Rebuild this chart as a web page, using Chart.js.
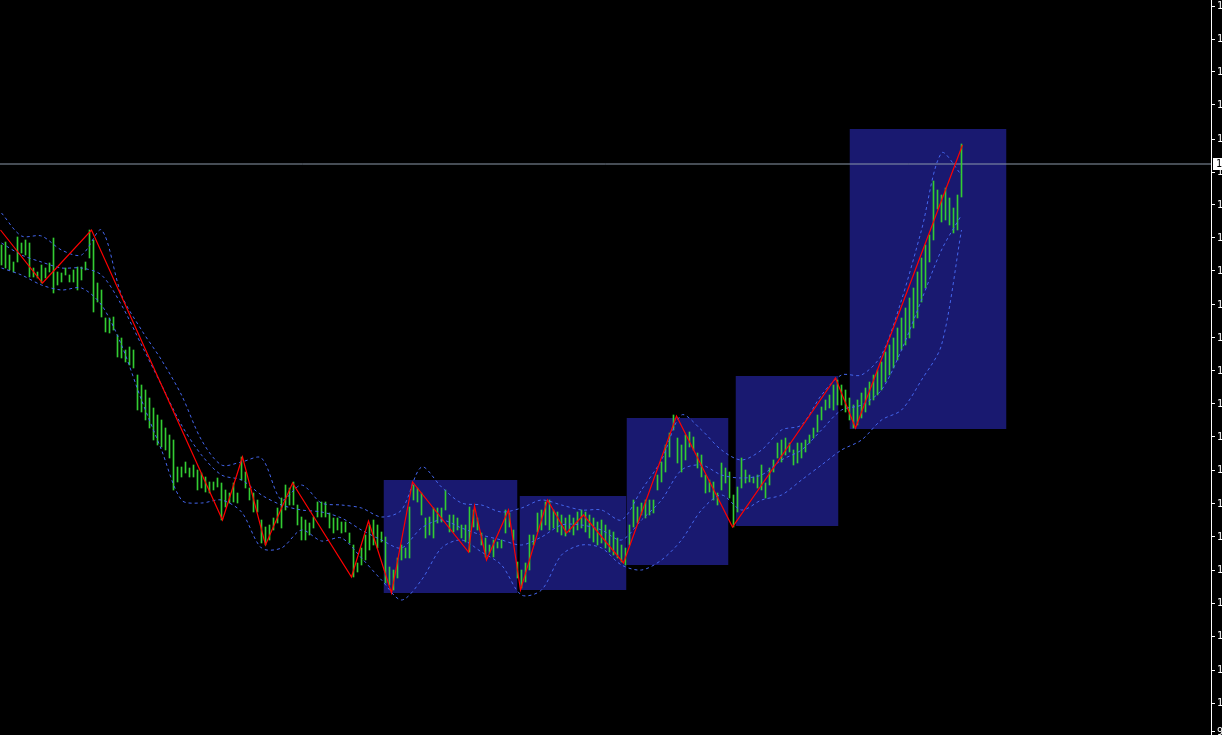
<!DOCTYPE html>
<html>
<head>
<meta charset="utf-8">
<script src="https://cdn.jsdelivr.net/npm/chart.js@4.4.0/dist/chart.umd.min.js"></script>
<style>
  body { margin: 0; background: #000; overflow: hidden; }
  #wrap { width: 1222px; height: 735px; }
</style>
</head>
<body>
<div id="wrap"><canvas id="chart" width="1222" height="735"></canvas></div>
<script>
// bar high / low (one bar every index)
const barHigh = [
  104.85, 104.88, 104.75, 104.68, 104.93, 104.87, 104.90, 104.87, 104.62, 104.58,
  104.65, 104.62, 104.67, 104.92, 104.58, 104.57, 104.62, 104.55, 104.60, 104.63,
  104.63, 104.68, 105.00, 104.90, 104.47, 104.40, 104.12, 104.12, 104.13, 103.95,
  103.92, 103.80, 103.83, 103.80, 103.55, 103.45, 103.40, 103.32, 103.22, 103.15,
  103.10, 103.02, 102.95, 102.90, 102.63, 102.63, 102.68, 102.62, 102.65, 102.60,
  102.57, 102.53, 102.48, 102.48, 102.52, 102.47, 102.40, 102.37, 102.47, 102.37,
  102.73, 102.58, 102.42, 102.37, 102.30, 102.10, 102.03, 102.05, 102.12, 102.22,
  102.32, 102.45, 102.42, 102.48, 102.25, 102.13, 102.10, 102.07, 102.13, 102.28,
  102.28, 102.28, 102.17, 102.12, 102.12, 102.08, 102.08, 101.97, 101.85, 101.67,
  101.82, 101.95, 102.05, 102.10, 102.05, 101.98, 101.93, 101.63, 101.60, 101.72,
  101.85, 101.82, 102.23, 102.45, 102.42, 102.37, 102.12, 102.13, 102.22, 102.22,
  102.22, 102.40, 102.15, 102.15, 102.12, 102.05, 102.05, 102.23, 102.20, 102.12,
  101.97, 101.92, 101.85, 101.90, 101.88, 101.90, 102.20, 102.17, 102.00, 101.68,
  101.60, 101.67, 101.95, 101.95, 102.17, 102.20, 102.28, 102.30, 102.20, 102.18,
  102.15, 102.12, 102.15, 102.12, 102.18, 102.20, 102.18, 102.15, 102.12, 102.08,
  102.10, 102.05, 102.00, 101.98, 101.92, 101.85, 101.82, 102.05, 102.30, 102.23,
  102.27, 102.30, 102.30, 102.30, 102.55, 102.68, 102.85, 102.97, 103.15, 102.92,
  102.85, 102.95, 102.98, 102.93, 102.77, 102.75, 102.55, 102.50, 102.48, 102.37,
  102.67, 102.62, 102.58, 102.35, 102.43, 102.72, 102.60, 102.55, 102.53, 102.55,
  102.65, 102.47, 102.62, 102.70, 102.87, 102.90, 102.92, 102.87, 102.80, 102.87,
  102.87, 102.90, 102.95, 103.02, 103.15, 103.23, 103.30, 103.35, 103.45, 103.50,
  103.45, 103.40, 103.32, 103.25, 103.30, 103.37, 103.42, 103.48, 103.55, 103.60,
  103.68, 103.78, 103.85, 103.92, 104.02, 104.12, 104.22, 104.32, 104.42, 104.58,
  104.72, 104.85, 104.95, 105.49, 105.40, 105.35, 105.42, 105.32, 105.22, 105.35,
  105.86
];
const barLow = [
  104.65, 104.62, 104.60, 104.58, 104.68, 104.77, 104.75, 104.53, 104.53, 104.52,
  104.47, 104.52, 104.58, 104.37, 104.45, 104.48, 104.55, 104.48, 104.48, 104.40,
  104.50, 104.60, 104.72, 104.18, 104.28, 104.13, 103.98, 103.97, 104.00, 103.73,
  103.72, 103.68, 103.65, 103.62, 103.20, 103.18, 103.10, 103.02, 102.90, 102.85,
  102.83, 102.80, 102.72, 102.40, 102.48, 102.53, 102.57, 102.53, 102.53, 102.40,
  102.42, 102.38, 102.37, 102.40, 102.43, 102.10, 102.23, 102.27, 102.28, 102.27,
  102.50, 102.42, 102.30, 102.18, 102.18, 101.87, 101.85, 101.90, 102.00, 102.07,
  102.02, 102.20, 102.25, 102.25, 102.05, 101.90, 101.90, 101.95, 102.02, 102.13,
  102.13, 102.13, 102.02, 101.97, 102.00, 101.97, 101.98, 101.87, 101.53, 101.58,
  101.65, 101.70, 101.80, 101.85, 101.82, 101.88, 101.47, 101.45, 101.40, 101.52,
  101.70, 101.72, 101.72, 102.30, 102.28, 102.15, 101.92, 101.95, 101.92, 102.07,
  102.08, 102.20, 101.98, 101.98, 102.00, 101.92, 101.88, 101.78, 102.03, 102.00,
  101.85, 101.73, 101.77, 101.73, 101.82, 101.82, 101.97, 102.03, 101.90, 101.52,
  101.42, 101.48, 101.60, 101.85, 101.98, 102.00, 102.05, 102.00, 102.02, 101.98,
  101.95, 101.94, 101.98, 101.95, 102.00, 102.02, 101.98, 101.92, 101.88, 101.85,
  101.87, 101.82, 101.78, 101.75, 101.72, 101.68, 101.65, 101.85, 102.03, 102.07,
  102.15, 102.12, 102.15, 102.17, 102.40, 102.48, 102.58, 102.73, 103.00, 102.67,
  102.58, 102.70, 102.83, 102.80, 102.62, 102.53, 102.37, 102.38, 102.30, 102.25,
  102.40, 102.47, 102.32, 102.03, 102.18, 102.42, 102.47, 102.48, 102.47, 102.42,
  102.40, 102.32, 102.45, 102.58, 102.72, 102.68, 102.75, 102.78, 102.65, 102.67,
  102.72, 102.78, 102.87, 102.92, 102.98, 103.10, 103.20, 103.22, 103.20, 103.25,
  103.25, 103.18, 103.10, 103.02, 103.05, 103.12, 103.18, 103.25, 103.30, 103.35,
  103.40, 103.48, 103.55, 103.62, 103.70, 103.80, 103.85, 103.92, 104.02, 104.12,
  104.28, 104.42, 104.68, 104.90, 105.21, 105.08, 105.10, 105.05, 104.97, 105.00,
  105.33
];

// bollinger style bands, sampled at these bar indexes
const bandIdx = [0, 5, 10, 15, 20, 25, 30, 35, 40, 45, 50, 55, 60, 65, 70, 75, 80, 85, 90, 95,
  100, 105, 110, 115, 120, 125, 130, 135, 140, 145, 150, 155, 160, 165, 170, 175, 180, 185, 190, 195,
  200, 205, 210, 215, 220, 225, 230, 235, 240];
const bandUpper = [105.17, 104.94, 104.94, 104.80, 104.75, 105.00, 104.35, 104.00, 103.70, 103.35,
  102.90, 102.65, 102.68, 102.72, 102.30, 102.45, 102.27, 102.25, 102.22, 102.13,
  102.20, 102.63, 102.43, 102.27, 102.25, 102.18, 102.22, 102.30, 102.25, 102.20,
  102.20, 102.10, 102.40, 102.70, 103.15, 103.00, 102.80, 102.70, 102.80, 103.00,
  103.05, 103.35, 103.55, 103.55, 103.75, 104.30, 105.00, 105.77, 105.55];
const bandMiddle = [104.87, 104.75, 104.68, 104.62, 104.62, 104.55, 104.25, 103.85, 103.45, 103.05,
  102.75, 102.55, 102.50, 102.35, 102.25, 102.20, 102.18, 102.12, 102.00, 101.90,
  101.82, 102.02, 102.10, 102.02, 101.95, 101.90, 101.85, 101.93, 102.05, 102.05,
  102.00, 101.90, 102.10, 102.30, 102.60, 102.65, 102.55, 102.52, 102.55, 102.70,
  102.80, 103.00, 103.20, 103.25, 103.40, 103.80, 104.30, 104.80, 105.15];
const bandLower = [104.62, 104.55, 104.45, 104.40, 104.42, 104.25, 103.85, 103.30, 102.80, 102.30,
  102.27, 102.30, 102.18, 101.82, 101.82, 102.00, 101.89, 101.92, 101.72, 101.50,
  101.30, 101.50, 101.82, 101.90, 101.78, 101.65, 101.35, 101.40, 101.75, 101.85,
  101.82, 101.65, 101.60, 101.70, 101.90, 102.20, 102.35, 102.20, 102.30, 102.35,
  102.50, 102.65, 102.80, 102.90, 103.10, 103.20, 103.50, 103.85, 105.00];

// zigzag pivots
const zigIdx = [-0.25, 10.25, 22.5, 55.25, 60.25, 66, 72.75, 87.5, 91.75, 97.5, 102.75, 116.75,
  118.25, 121.25, 126.75, 129.75, 136.5, 141.25, 145.5, 155.5, 168.75, 182.75, 208.5, 213.5, 240.25];
const zigPrice = [105.00, 104.47, 105.00, 102.10, 102.73, 101.85, 102.47, 101.53, 102.09, 101.37, 102.48, 101.78,
  102.24, 101.70, 102.20, 101.40, 102.30, 101.97, 102.15, 101.67, 103.14, 102.03, 103.52, 103.02, 105.85];

// range boxes
const boxStart = [95.5, 129.5, 156.25, 183.5, 212];
const boxEnd = [129, 156.25, 181.75, 209.25, 251.25];
const boxHigh = [102.50, 102.34, 103.12, 103.54, 106.01];
const boxLow = [101.37, 101.40, 101.65, 102.04, 103.01];

// current price line
const priceLevel = 105.66;

// price scale ticks
const tickValues = [107.24, 106.91, 106.58, 106.25, 105.91, 105.58, 105.25, 104.92, 104.59, 104.25,
  103.92, 103.59, 103.26, 102.93, 102.60, 102.26, 101.93, 101.60, 101.27, 100.94, 100.60, 100.27, 99.98];

const datasets = [];

// boxes first (drawn at the back)
for (let k = 0; k < boxStart.length; k++) {
  datasets.push({
    type: 'line',
    data: [{ x: boxStart[k], y: boxHigh[k] }, { x: boxEnd[k], y: boxHigh[k] }],
    borderWidth: 0,
    borderColor: 'rgba(0,0,0,0)',
    backgroundColor: '#191970',
    fill: { value: boxLow[k] },
    pointRadius: 0,
    order: 20
  });
}

datasets.push({
  type: 'line',
  data: [{ x: -0.5, y: priceLevel }, { x: 303, y: priceLevel }],
  borderColor: '#8c99aa',
  borderWidth: 1,
  pointRadius: 0,
  order: 10
});

datasets.push({
  type: 'bar',
  data: barHigh.map((h, i) => ({ x: i, y: [barLow[i], h] })),
  backgroundColor: '#3c3',
  barThickness: 1,
  order: 5
});

[bandUpper, bandMiddle, bandLower].forEach(band => {
  datasets.push({
    type: 'line',
    data: band.map((v, i) => ({ x: bandIdx[i], y: v })),
    borderColor: '#4466ee',
    borderWidth: 1,
    borderDash: [3, 3],
    pointRadius: 0,
    tension: 0.3,
    order: 3
  });
});

datasets.push({
  type: 'line',
  data: zigPrice.map((v, i) => ({ x: zigIdx[i], y: v })),
  borderColor: '#ff0000',
  borderWidth: 1.2,
  pointRadius: 0,
  tension: 0,
  order: 1
});

// white price tag on the axis
const priceTag = {
  id: 'priceTag',
  afterDraw(chart) {
    const ctx = chart.ctx;
    const y = Math.round(chart.scales.y.getPixelForValue(priceLevel));
    const x = chart.chartArea.right + 2;
    ctx.save();
    ctx.fillStyle = '#ffffff';
    ctx.fillRect(x, y - 6, 20, 12);
    ctx.fillStyle = '#000000';
    ctx.font = '10px "DejaVu Sans Mono"';
    ctx.textBaseline = 'middle';
    ctx.fillText(priceLevel.toFixed(2), x + 3, y);
    ctx.restore();
  }
};

new Chart(document.getElementById('chart').getContext('2d'), {
  type: 'bar',
  data: { datasets: datasets },
  options: {
    responsive: false,
    animation: false,
    devicePixelRatio: 1,
    layout: { padding: 0 },
    plugins: { legend: { display: false }, tooltip: { enabled: false } },
    scales: {
      x: {
        type: 'linear',
        min: -0.375,
        max: 302.375,
        offset: false,
        grid: { offset: false },
        display: false
      },
      y: {
        position: 'right',
        min: 99.95,
        max: 107.30,
        afterBuildTicks: scale => { scale.ticks = tickValues.map(v => ({ value: v })); },
        afterFit: scale => { scale.width = 11; scale.paddingTop = 0; scale.paddingBottom = 0; },
        grid: { drawOnChartArea: false, color: '#ffffff', tickLength: 4 },
        border: { color: '#ffffff', width: 1 },
        ticks: {
          autoSkip: false,
          padding: 2,
          color: '#ffffff',
          font: { family: 'DejaVu Sans Mono', size: 10 },
          callback: v => Number(v).toFixed(2)
        }
      }
    }
  },
  plugins: [priceTag]
});
</script>
</body>
</html>
